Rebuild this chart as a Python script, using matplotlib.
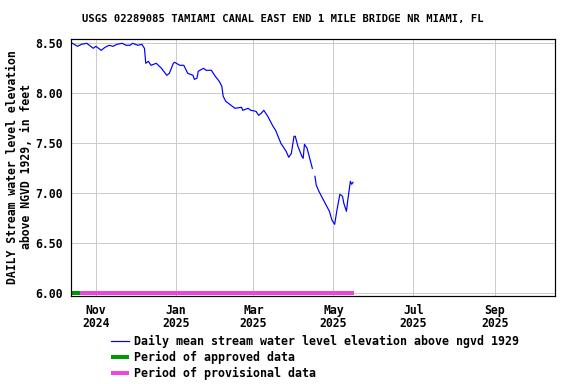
import numpy as np
import pandas as pd
import matplotlib
matplotlib.use("Agg")
import matplotlib.pyplot as plt
import matplotlib.dates as mdates

nan = np.nan
dates = ["2024-10-14","2024-10-18","2024-10-21","2024-10-25","2024-10-30",
         "2024-11-01","2024-11-05","2024-11-08","2024-11-11","2024-11-14","2024-11-17","2024-11-21","2024-11-24","2024-11-27","2024-11-29",
         "2024-12-03","2024-12-06","2024-12-08","2024-12-09","2024-12-11","2024-12-13","2024-12-17","2024-12-21","2024-12-25","2024-12-27","2024-12-30","2024-12-31",
         "2025-01-04","2025-01-07","2025-01-10","2025-01-14","2025-01-15","2025-01-17","2025-01-18","2025-01-22","2025-01-24","2025-01-28","2025-01-31",
         "2025-02-03","2025-02-05","2025-02-06","2025-02-08","2025-02-12","2025-02-15","2025-02-20","2025-02-21","2025-02-25","2025-02-27",
         "2025-03-03","2025-03-05","2025-03-07","2025-03-09","2025-03-12","2025-03-16","2025-03-18","2025-03-22","2025-03-26","2025-03-28","2025-03-30",
         "2025-04-01","2025-04-02","2025-04-04","2025-04-07","2025-04-08","2025-04-09","2025-04-11","2025-04-15","2025-04-16",
         "2025-04-17","2025-04-18","2025-04-20","2025-04-24","2025-04-28","2025-04-30",
         "2025-05-02","2025-05-04","2025-05-06","2025-05-08","2025-05-09","2025-05-11","2025-05-12","2025-05-14","2025-05-15","2025-05-16"]
values = [8.50,8.47,8.49,8.50,8.45,
          8.47,8.43,8.46,8.48,8.47,8.49,8.50,8.48,8.48,8.50,
          8.48,8.49,8.45,8.30,8.32,8.28,8.30,8.25,8.18,8.20,8.30,8.31,
          8.28,8.28,8.20,8.18,8.14,8.15,8.22,8.25,8.23,8.23,8.17,
          8.12,8.07,7.97,7.92,7.88,7.85,7.86,7.83,7.85,7.83,
          7.82,7.78,7.80,7.83,7.77,7.67,7.63,7.50,7.42,7.36,7.40,
          7.57,7.57,7.47,7.37,7.35,7.49,7.45,7.25,nan,
          7.17,7.08,7.02,6.92,6.82,6.73,
          6.69,6.85,6.99,6.97,6.90,6.82,6.93,7.12,7.09,7.11]

approved_period = ["2024-10-13", "2024-10-20"]
provisional_period = ["2024-10-20", "2025-05-17"]
period_level = 6.00

yticks = [6.00, 6.50, 7.00, 7.50, 8.00, 8.50]
xtick_dates = ["2024-11-01","2025-01-01","2025-03-01","2025-05-01","2025-07-01","2025-09-01"]

title = "USGS 02289085 TAMIAMI CANAL EAST END 1 MILE BRIDGE NR MIAMI, FL"
ylabel = "DAILY Stream water level elevation\nabove NGVD 1929, in feet"
labels = ["Daily mean stream water level elevation above ngvd 1929",
          "Period of approved data", "Period of provisional data"]

plt.rcParams['font.family'] = ['DejaVu Sans Mono']
plt.rcParams['font.weight'] = 'bold'

fig = plt.figure(figsize=(5.76, 3.84), dpi=100)
ax = fig.add_axes([71/576, 1-296/384, (555-71)/576, (296-39)/384])

d = pd.to_datetime(dates)
px = 0.72
ln, = ax.plot(d, values, color='#0000ff', lw=1.2*px)
ap, = ax.plot(pd.to_datetime(approved_period), [period_level]*2, color='#009900', lw=4*px, solid_capstyle='butt')
pp, = ax.plot(pd.to_datetime(provisional_period), [period_level]*2, color='#ee44dd', lw=4*px, solid_capstyle='butt')

ax.set_xlim(pd.Timestamp("2024-10-13"), pd.Timestamp("2025-10-17"))
ax.set_ylim(5.973, 8.543)
ax.set_yticks(yticks)
ax.set_yticklabels([f"{v:.2f}" for v in yticks])
xt = pd.to_datetime(xtick_dates)
ax.set_xticks(xt)
ax.set_xticklabels([f"{t.strftime('%b')}\n{t.year}" for t in xt], linespacing=1.0)
ax.tick_params(length=0, labelsize=8.3, pad=6)
ax.tick_params(axis='x', pad=6)
ax.grid(True, color='#cccccc', lw=1.0*px)
ax.set_axisbelow(True)
for s in ax.spines.values():
    s.set_linewidth(1.2*px)
    s.set_color('black')
for lab in ax.get_xticklabels() + ax.get_yticklabels():
    lab.set_fontweight('bold')

fig.text(283/576, 1-19/384, title, ha='center', va='center', fontsize=7.55, fontweight='bold')
fig.text(20/576, 1-167/384, ylabel, ha='center', va='center', rotation=90, fontsize=8.3,
         fontweight='bold', linespacing=1.1)

leg = fig.legend([ln, ap, pp], labels, loc='upper left', bbox_to_anchor=(111/576, 1-335/384),
                 frameon=False, fontsize=8.36, handlelength=1.55, handletextpad=0.42,
                 labelspacing=0.24, borderpad=0, borderaxespad=0)
for t in leg.get_texts():
    t.set_fontweight('bold')

fig.savefig("out.png", dpi=100)
